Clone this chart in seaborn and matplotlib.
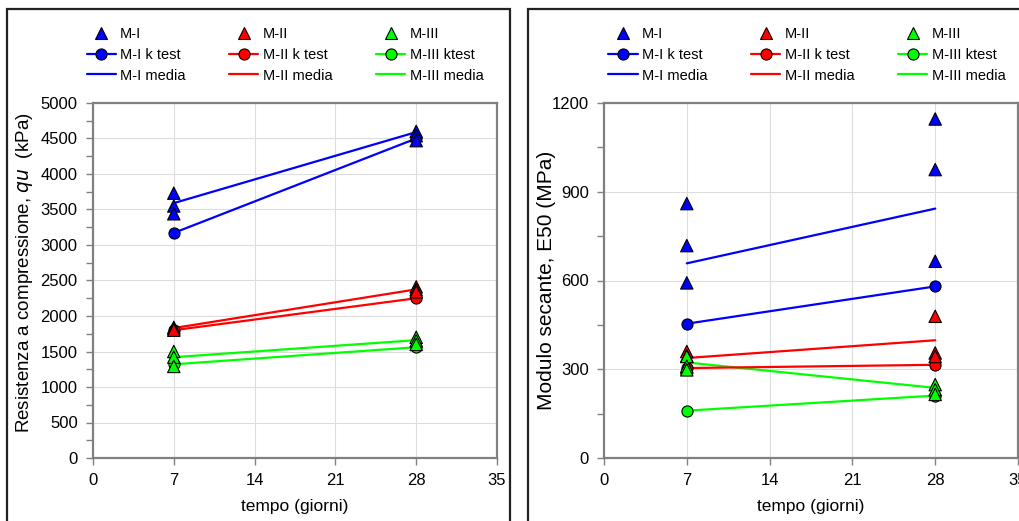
import numpy as np
import pandas as pd
import matplotlib
matplotlib.use("Agg")
import matplotlib.pyplot as plt
from matplotlib.lines import Line2D
from matplotlib.patches import Rectangle
from matplotlib.ticker import MultipleLocator
import seaborn as sns

sns.set_theme(style="white")
plt.rcParams['font.family'] = ['Liberation Sans', 'DejaVu Sans']
plt.rcParams['text.color'] = 'black'
plt.rcParams['axes.labelcolor'] = 'black'
plt.rcParams['xtick.color'] = 'black'
plt.rcParams['ytick.color'] = 'black'

# ---------------- data ----------------
days = [7, 28]
series = ["M-I", "M-II", "M-III"]
colors = ["#0000FF", "#FF0000", "#00FF00"]
ktest_labels = ["M-I k test", "M-II k test", "M-III ktest"]
media_labels = ["M-I media", "M-II media", "M-III media"]

# Left panel: Resistenza a compressione qu (kPa)
qu_tri_7 = {"M-I": [3730, 3550, 3440], "M-II": [1840, 1820, 1800], "M-III": [1500, 1420, 1290]}
qu_tri_28 = {"M-I": [4600, 4540, 4470], "M-II": [2410, 2370, 2340], "M-III": [1700, 1650, 1600]}
qu_ktest = {"M-I": [3170, 4500], "M-II": [1800, 2250], "M-III": [1320, 1560]}
qu_media = {"M-I": [3590, 4590], "M-II": [1830, 2375], "M-III": [1420, 1660]}

# Right panel: Modulo secante E50 (MPa)
e_tri_7 = {"M-I": [860, 718, 592], "M-II": [360, 345, 305], "M-III": [343, 310, 298]}
e_tri_28 = {"M-I": [1146, 975, 665], "M-II": [479, 355, 343], "M-III": [248, 231, 215]}
e_ktest = {"M-I": [454, 580], "M-II": [304, 315], "M-III": [160, 211]}
e_media = {"M-I": [658, 843], "M-II": [338, 398], "M-III": [323, 237]}

xticks = [0, 7, 14, 21, 28, 35]


def tri_frame(t7, t28):
    rows = []
    for s in series:
        for v in t7[s]:
            rows.append((s, 7, v))
        for v in t28[s]:
            rows.append((s, 28, v))
    return pd.DataFrame(rows, columns=["serie", "tempo", "val"])


def line_frame(d):
    rows = []
    for s in series:
        for x, v in zip(days, d[s]):
            rows.append((s, x, v))
    return pd.DataFrame(rows, columns=["serie", "tempo", "val"])


fig = plt.figure(figsize=(10.2, 5.21), dpi=100)

# panel frames
fig.patches.append(Rectangle((7 / 1020, -0.05), (510 - 7) / 1020, 1.05 - 9 / 521,
                             transform=fig.transFigure, fill=False,
                             edgecolor="#222222", linewidth=1.6))
fig.patches.append(Rectangle((528 / 1020, -0.05), 0.5, 1.05 - 9 / 521,
                             transform=fig.transFigure, fill=False,
                             edgecolor="#222222", linewidth=1.6))

ax1 = fig.add_axes([93 / 1020, 63 / 521, 404 / 1020, 355 / 521])
ax2 = fig.add_axes([604 / 1020, 63 / 521, 414 / 1020, 355 / 521])

pal = dict(zip(series, colors))


def draw(ax, t7, t28, kt, md, ymax, ymajor, yminor, ylabel, ylsize, ylcoords, leg_center):
    ax.grid(True, color="#DDDDDD", linewidth=0.8)
    ax.set_axisbelow(True)
    lm = line_frame(md)
    for s in series:
        sub = lm[lm.serie == s]
        sns.lineplot(data=sub, x="tempo", y="val", ax=ax, color=pal[s],
                     linewidth=1.6, legend=False, zorder=3)
    lk = line_frame(kt)
    for s in series:
        sub = lk[lk.serie == s]
        sns.lineplot(data=sub, x="tempo", y="val", ax=ax, color=pal[s],
                     linewidth=1.6, marker="o", markersize=8,
                     markeredgecolor="black", markeredgewidth=0.8,
                     legend=False, zorder=4)
    tf = tri_frame(t7, t28)
    sns.scatterplot(data=tf, x="tempo", y="val", hue="serie", palette=pal,
                    marker="^", s=80, edgecolor="black", linewidth=0.8,
                    ax=ax, legend=False, zorder=5)

    ax.set_xlim(0, 35)
    ax.set_ylim(0, ymax)
    ax.set_xticks(xticks)
    ax.yaxis.set_major_locator(MultipleLocator(ymajor))
    ax.yaxis.set_minor_locator(MultipleLocator(yminor))
    ax.tick_params(axis="both", which="major", direction="out", length=5,
                   width=1, color="#808080", labelcolor="black", labelsize=12,
                   pad=6, left=True, bottom=True)
    ax.tick_params(axis="y", which="minor", direction="out", length=5,
                   width=1, color="#808080", left=True)
    for sp in ax.spines.values():
        sp.set_color("#808080")
        sp.set_linewidth(1.6)
    ax.set_xlabel("tempo (giorni)", fontsize=12.5, labelpad=8, color="black")
    ax.set_ylabel(ylabel, fontsize=ylsize, color="black")
    ax.yaxis.set_label_coords(*ylcoords)

    handles = []
    labels = []
    for s, c, kl, ml in zip(series, colors, ktest_labels, media_labels):
        handles.append(Line2D([], [], linestyle="none", marker="^", markersize=9,
                              markerfacecolor=c, markeredgecolor="black", markeredgewidth=0.8))
        labels.append(s)
        handles.append(Line2D([], [], color=c, linewidth=1.6, marker="o", markersize=8,
                              markerfacecolor=c, markeredgecolor="black", markeredgewidth=0.8))
        labels.append(kl)
        handles.append(Line2D([], [], color=c, linewidth=1.6))
        labels.append(ml)
    leg = fig.legend(handles, labels, ncol=3, loc="center",
                     bbox_to_anchor=leg_center, bbox_transform=fig.transFigure,
                     frameon=False, fontsize=10.5, handlelength=2.0,
                     handletextpad=0.3, columnspacing=3.0, labelspacing=0.45)
    for t in leg.get_texts():
        t.set_color("black")


draw(ax1, qu_tri_7, qu_tri_28, qu_ktest, qu_media, 5000, 500, 250,
     "Resistenza a compressione, $\\mathit{qu}$  (kPa)", 13.5, (-0.1436, 0.521),
     (285 / 1020, 1 - 55 / 521))
draw(ax2, e_tri_7, e_tri_28, e_ktest, e_media, 1200, 300, 150,
     "Modulo secante, E50 (MPa)", 15, (-0.116, 0.5),
     (807 / 1020, 1 - 55 / 521))

fig.savefig("out.png", dpi=100)
